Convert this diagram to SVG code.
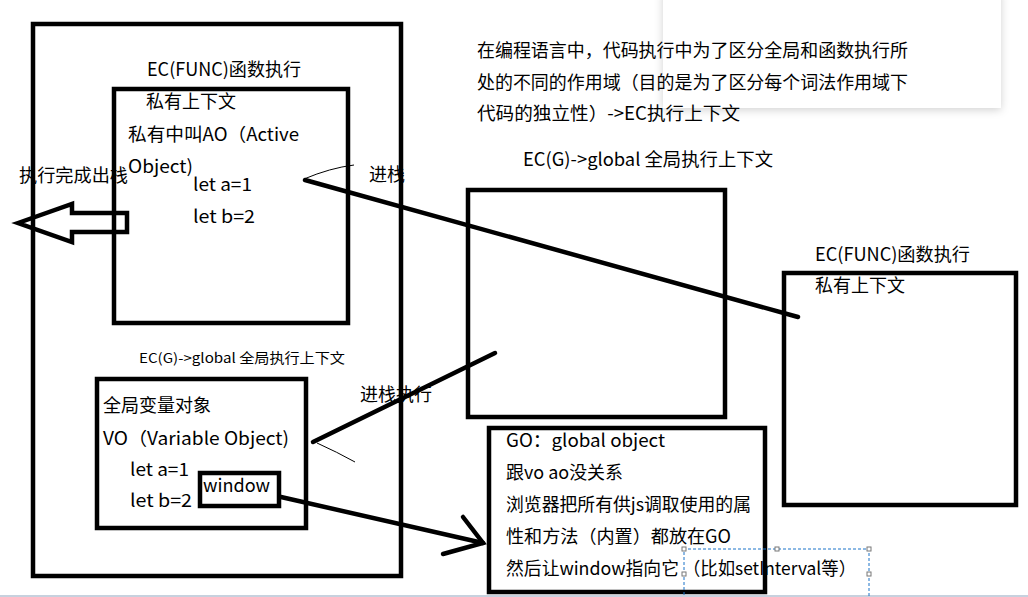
<svg xmlns="http://www.w3.org/2000/svg" width="1028" height="597" viewBox="0 0 1028 597">
<defs>
<filter id="sh" x="-10%" y="-20%" width="120%" height="150%">
<feDropShadow dx="0" dy="2" stdDeviation="4" flood-color="#000" flood-opacity="0.18"/>
</filter>
<style>
.t{font-family:"Noto Sans CJK SC","Noto Sans",sans-serif;font-size:18px;fill:#000}
.box{fill:none;stroke:#000;stroke-width:4.5}
.ln{fill:none;stroke:#000;stroke-width:4.5;stroke-linecap:round}
.thin{fill:none;stroke:#000;stroke-width:1}
.hd{fill:#fff;stroke:#777;stroke-width:1}
</style>
</defs>
<rect width="1028" height="597" fill="#fff"/>
<rect x="663" y="-10" width="338" height="118" fill="#fff" filter="url(#sh)"/>
<line x1="0" y1="596" x2="1028" y2="596" stroke="#b4c2d3" stroke-width="1.5"/>

<g id="outer-ec">
<rect class="box" x="33" y="24" width="368" height="552" stroke-width="5"/>
</g>
<g id="func-ec-left">
<rect class="box" x="114" y="89" width="234" height="234"/>
<text class="t" x="147" y="76" textLength="154" lengthAdjust="spacingAndGlyphs">EC(FUNC)函数执行</text>
<text class="t" x="146" y="108">私有上下文</text>
<text class="t" x="128" y="141" textLength="171" lengthAdjust="spacingAndGlyphs">私有中叫AO（Active</text>
<text class="t" x="128" y="173" textLength="65" lengthAdjust="spacingAndGlyphs">Object)</text>
<text class="t" x="193" y="191" textLength="59" lengthAdjust="spacingAndGlyphs">let a=1</text>
<text class="t" x="193" y="223" textLength="62" lengthAdjust="spacingAndGlyphs">let b=2</text>
</g>
<g id="label-exit">
<text class="t" x="19" y="182" textLength="109" lengthAdjust="spacingAndGlyphs">执行完成出栈</text>
</g>
<g id="label-ecg-small">
<text class="t" x="139" y="363" font-size="14" textLength="206" lengthAdjust="spacingAndGlyphs" transform="translate(0,90.75) scale(1,0.75)">EC(G)->global 全局执行上下文</text>
</g>
<g id="vo-box">
<rect class="box" x="97" y="379" width="209" height="149"/>
<text class="t" x="103" y="412">全局变量对象</text>
<text class="t" x="103" y="445" textLength="186" lengthAdjust="spacingAndGlyphs">VO（Variable Object)</text>
<text class="t" x="130" y="476" textLength="59" lengthAdjust="spacingAndGlyphs">let a=1</text>
<text class="t" x="130" y="507" textLength="62" lengthAdjust="spacingAndGlyphs">let b=2</text>
</g>
<g id="window-box">
<rect class="box" x="200" y="473" width="79" height="33"/>
<text class="t" x="203" y="492" textLength="67" lengthAdjust="spacingAndGlyphs">window</text>
</g>
<g id="intro-text">
<text class="t" x="477" y="57" textLength="431" lengthAdjust="spacingAndGlyphs">在编程语言中，代码执行中为了区分全局和函数执行所</text>
<text class="t" x="477" y="89" textLength="431" lengthAdjust="spacingAndGlyphs">处的不同的作用域（目的是为了区分每个词法作用域下</text>
<text class="t" x="477" y="120" textLength="263" lengthAdjust="spacingAndGlyphs">代码的独立性）->EC执行上下文</text>
</g>
<g id="global-ec">
<text class="t" x="523" y="166" textLength="250" lengthAdjust="spacingAndGlyphs">EC(G)->global 全局执行上下文</text>
<rect class="box" x="468" y="190" width="257" height="227"/>
</g>
<g id="func-ec-right">
<text class="t" x="815" y="261" textLength="155" lengthAdjust="spacingAndGlyphs">EC(FUNC)函数执行</text>
<text class="t" x="815" y="292">私有上下文</text>
<rect class="box" x="784" y="273" width="232" height="232"/>
</g>
<g id="go-box">
<rect class="box" x="489" y="428" width="276" height="164"/>
<text class="t" x="506" y="447" textLength="159" lengthAdjust="spacingAndGlyphs">GO：global object</text>
<text class="t" x="506" y="479" textLength="117" lengthAdjust="spacingAndGlyphs">跟vo ao没关系</text>
<text class="t" x="506" y="511" textLength="245" lengthAdjust="spacingAndGlyphs">浏览器把所有供js调取使用的属</text>
<text class="t" x="506" y="543" textLength="225" lengthAdjust="spacingAndGlyphs">性和方法（内置）都放在GO</text>
<text class="t" x="506" y="575" textLength="173" lengthAdjust="spacingAndGlyphs">然后让window指向它</text>
</g>
<g id="note-selection">
<text class="t" x="683" y="575" textLength="173" lengthAdjust="spacingAndGlyphs">（比如setInterval等）</text>
<path d="M684 600 V549 H869 V600" fill="none" stroke="#1a73c8" stroke-width="1" stroke-dasharray="3 2"/>
<rect class="hd" x="682" y="547" width="4" height="4"/>
<rect class="hd" x="775" y="547" width="4" height="4"/>
<rect class="hd" x="867" y="547" width="4" height="4"/>
<rect class="hd" x="682" y="572" width="4" height="4"/>
<rect class="hd" x="867" y="572" width="4" height="4"/>
</g>
<g id="labels-push">
<text class="t" x="369" y="181">进栈</text>
<text class="t" x="360" y="401">进栈执行</text>
</g>
<g id="connectors">
<line class="ln" x1="305" y1="180" x2="798" y2="317"/>
<path class="thin" d="M304 179 Q330 168 354 165"/>
<line class="ln" x1="313" y1="442" x2="495" y2="353"/>
<path class="thin" d="M317 443 Q337 452 355 462"/>
<line class="ln" x1="281" y1="497" x2="483" y2="543"/>
<polyline class="ln" points="463,517 483,543 443,554"/>
<polygon points="18,223 72,204 72,213 127,213 127,232 72,232 72,242" fill="none" stroke="#000" stroke-width="4.5" stroke-linejoin="miter"/>
</g>
</svg>
